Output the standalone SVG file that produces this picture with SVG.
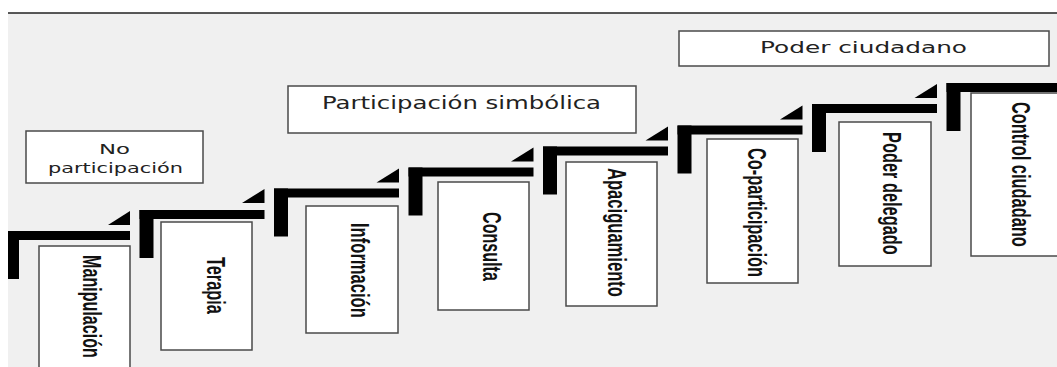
<svg xmlns="http://www.w3.org/2000/svg" width="1057" height="367" viewBox="0 0 1057 367">
<style>
.bg{fill:#f0f0f0}
.box{fill:#ffffff;stroke:#4a4a4a;stroke-width:1.5}
.bar{fill:#000000}
.hl{font-family:"DejaVu Sans","Noto Sans",sans-serif;fill:#222222}
.vl{font-family:"Liberation Sans",Arial,sans-serif;font-weight:bold;font-size:26px;fill:#111111}
</style>
<rect x="0" y="0" width="1057" height="367" fill="#ffffff"/>
<rect class="bg" x="8" y="13" width="1049" height="354"/>
<line x1="8" y1="13" x2="1057" y2="13" stroke="#222222" stroke-width="1.5"/>

<g id="connectors">
  <g id="step1"><rect class="bar" x="8" y="231" width="122" height="9"/><rect class="bar" x="8" y="231" width="11" height="48"/><polygon class="bar" points="108,225 130,211 130,225"/></g>
  <g id="step2"><rect class="bar" x="139.5" y="210" width="125" height="9"/><rect class="bar" x="139.5" y="210" width="14" height="48"/><polygon class="bar" points="242,203 264.5,189 264.5,203"/></g>
  <g id="step3"><rect class="bar" x="274" y="188.5" width="125" height="9"/><rect class="bar" x="274" y="188.5" width="14" height="48"/><polygon class="bar" points="376.5,182.5 399,168.5 399,182.5"/></g>
  <g id="step4"><rect class="bar" x="408.5" y="167.5" width="125" height="9"/><rect class="bar" x="408.5" y="167.5" width="14" height="48"/><polygon class="bar" points="511,161.5 533.5,147.5 533.5,161.5"/></g>
  <g id="step5"><rect class="bar" x="543" y="146.5" width="125" height="9"/><rect class="bar" x="543" y="146.5" width="14" height="48"/><polygon class="bar" points="645.5,140.5 668,126.5 668,140.5"/></g>
  <g id="step6"><rect class="bar" x="677.5" y="125.5" width="125" height="9"/><rect class="bar" x="677.5" y="125.5" width="14" height="48"/><polygon class="bar" points="780,119.5 802.5,105.5 802.5,119.5"/></g>
  <g id="step7"><rect class="bar" x="812" y="104" width="125" height="9"/><rect class="bar" x="812" y="104" width="14" height="48"/><polygon class="bar" points="914.5,98 937,84 937,98"/></g>
  <g id="step8"><rect class="bar" x="946.5" y="83" width="125" height="9"/><rect class="bar" x="946.5" y="83" width="14" height="48"/></g>
</g>

<g id="no-participacion">
  <rect class="box" x="26" y="131" width="177" height="52"/>
  <text class="hl" x="99" y="154" font-size="14" textLength="31" lengthAdjust="spacingAndGlyphs">No</text>
  <text class="hl" x="48" y="173" font-size="14" textLength="135" lengthAdjust="spacingAndGlyphs">participación</text>
</g>
<g id="participacion-simbolica">
  <rect class="box" x="288" y="86" width="348" height="47"/>
  <text class="hl" x="322" y="109" font-size="17" textLength="279" lengthAdjust="spacingAndGlyphs">Participación simbólica</text>
</g>
<g id="poder-ciudadano">
  <rect class="box" x="679" y="31" width="370" height="35"/>
  <text class="hl" x="760" y="53" font-size="15" textLength="207" lengthAdjust="spacingAndGlyphs">Poder ciudadano</text>
</g>

<g id="manipulacion">
  <rect class="box" x="39" y="246" width="91" height="130"/>
  <text class="vl" transform="translate(83,255) rotate(90) scale(0.62,1)">Manipulación</text>
</g>
<g id="terapia">
  <rect class="box" x="161" y="222" width="91" height="128"/>
  <text class="vl" transform="translate(207,257) rotate(90) scale(0.627,1)">Terapia</text>
</g>
<g id="informacion">
  <rect class="box" x="306" y="206" width="92" height="127"/>
  <text class="vl" transform="translate(351,223) rotate(90) scale(0.638,1)">Información</text>
</g>
<g id="consulta">
  <rect class="box" x="438" y="182" width="91" height="128"/>
  <text class="vl" transform="translate(483,212) rotate(90) scale(0.62,1)">Consulta</text>
</g>
<g id="apaciguamiento">
  <rect class="box" x="566" y="162" width="91" height="144"/>
  <text class="vl" transform="translate(608,168) rotate(90) scale(0.638,1)">Apaciguamiento</text>
</g>
<g id="co-participacion">
  <rect class="box" x="707" y="139" width="91" height="144"/>
  <text class="vl" transform="translate(748,148) rotate(90) scale(0.629,1)">Co-participación</text>
</g>
<g id="poder-delegado">
  <rect class="box" x="839" y="122" width="92" height="144"/>
  <text class="vl" transform="translate(883,132) rotate(90) scale(0.63,1)">Poder delegado</text>
</g>
<g id="control-ciudadano">
  <rect class="box" x="971" y="93" width="95" height="163"/>
  <text class="vl" transform="translate(1012,102) rotate(90) scale(0.631,1)">Control ciudadano</text>
</g>
</svg>
